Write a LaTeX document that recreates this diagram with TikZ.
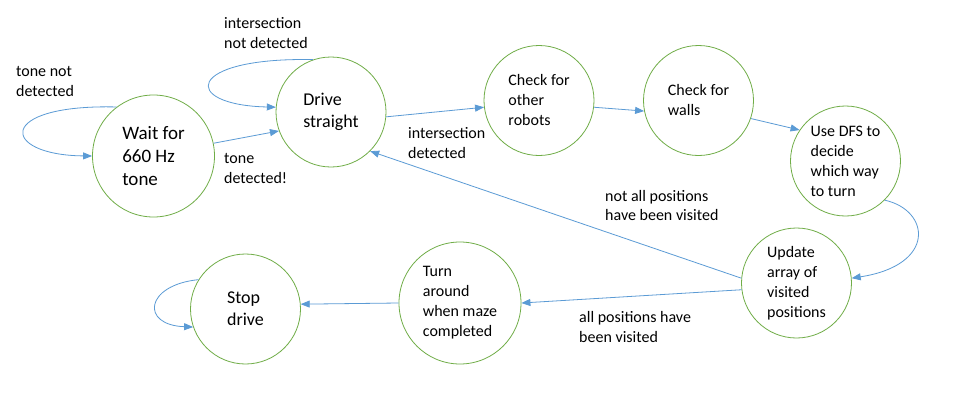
\documentclass[tikz,border=0pt]{standalone}
\usepackage{fontspec}
\setmainfont{Carlito}
\usetikzlibrary{arrows.meta}
\definecolor{stategreen}{HTML}{70AD47}
\definecolor{linkblue}{HTML}{5B9BD5}
\begin{document}
\begin{tikzpicture}[x=1pt,y=-1pt,
  state/.style={circle,draw=stategreen,line width=0.8pt,minimum size=110pt,inner sep=0pt,align=left,font=\fontsize{16}{20}\selectfont},
  bigstate/.style={state,font=\fontsize{18}{22}\selectfont},
  lbl/.style={anchor=west,inner sep=0pt,align=left,font=\fontsize{16}{20}\selectfont},
  link/.style={draw=linkblue,line width=0.8pt,-{Triangle[length=9pt,width=7pt]}}]
 \useasboundingbox[fill=white](0,0) rectangle (966,407);
 % states
 \node[bigstate,minimum size=122pt,font=\fontsize{19}{23}\selectfont](wait) at (153.5,156) {Wait for\\660 Hz\\tone};
 \node[bigstate](drive) at (331,112) {Drive\\straight};
 \node[state](robots) at (539,100.5) {Check for\\other\\robots};
 \node[state](walls) at (698.5,100.5) {Check for\\walls};
 \node[state](dfs) at (845.5,161) {Use DFS to\\decide\\which way\\to turn};
 \node[state](update) at (796.5,283) {Update\\array of\\visited\\positions};
 \node[state,minimum size=122pt](turn) at (460,303) {Turn\\around\\when maze\\completed};
 \node[bigstate](stop) at (245.5,309) {Stop\\drive};
 % transitions
 \draw[link](wait.127) .. controls (-5,104) and (0,155) .. (wait.west);
 \draw[link](drive.109) .. controls (185,57) and (180,105) .. (drive.175);
 \draw[link](wait.12) -- (drive.200);
 \draw[link](drive.-5) -- (robots.187);
 \draw[link](robots.-7) -- (walls.191);
 \draw[link](walls.-19) -- (dfs.146);
 \draw[link](dfs.-45) .. controls (930,210) and (937,265) .. (update.5);
 \draw[link](update.175) -- (drive.-45);
 \draw[link](update.187) -- (turn.east);
 \draw[link](turn.west) -- (stop.5);
 \draw[link](stop.148) .. controls (145,285) and (140,325) .. (stop.199);
 % labels
 \node[lbl](tonenot) at (16,81.5) {tone not\\detected};
 \node[lbl](interNot) at (224,33) {intersection\\not detected};
 \node[lbl](toneYes) at (224,168) {tone\\detected!};
 \node[lbl](interYes) at (408,143.5) {intersection\\detected};
 \node[lbl](notAll) at (605,205.5) {not all positions\\have been visited};
 \node[lbl](allPos) at (579,326.5) {all positions have\\been visited};
\end{tikzpicture}
\end{document}
